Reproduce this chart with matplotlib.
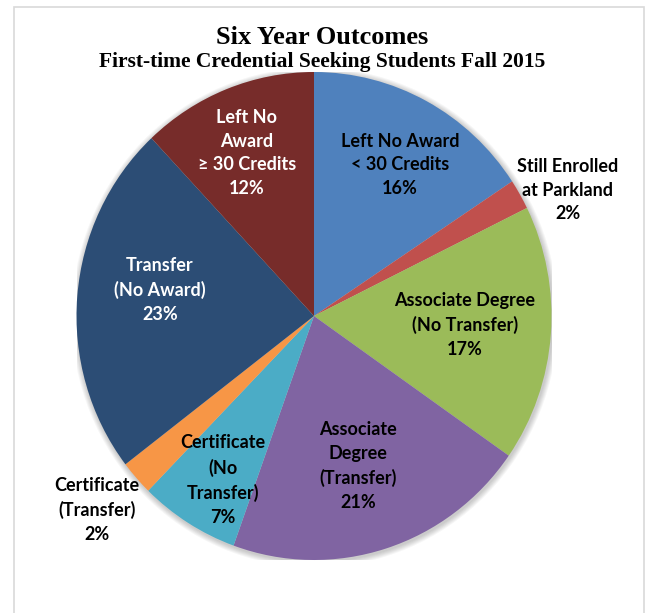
import matplotlib
matplotlib.use("Agg")
import matplotlib.pyplot as plt
import numpy as np
from matplotlib.patches import Rectangle, Ellipse

# outcome shares (%), clockwise from 12 o'clock
names = ["Left No Award\n< 30 Credits", "Still Enrolled\nat Parkland",
         "Associate Degree\n(No Transfer)", "Associate\nDegree\n(Transfer)",
         "Certificate\n(No\nTransfer)", "Certificate\n(Transfer)",
         "Transfer\n(No Award)", "Left No\nAward\n\u2265 30 Credits"]
shares = [15.7, 2.0, 17.0, 20.8, 6.8, 2.3, 23.4, 12.0]
colors = ["#4F81BD", "#C0504D", "#9BBB59", "#8064A2",
          "#4BACC6", "#F79646", "#2C4D75", "#772C2A"]
text_colors = ["black", "black", "black", "black", "black", "black", "white", "white"]
# label placement: radius (fraction of pie) and angle nudge from wedge middle (deg)
label_r = [0.717, 1.187, 0.637, 0.642, 0.774, 1.211, 0.657, 0.725]
label_da = [-2.0, -4.1, 1.0, -0.9, 2.3, -0.6, -4.7, 1.3]

W, H = 645, 613
fig = plt.figure(figsize=(W / 100, H / 100), dpi=100)

# light frame
fig.patches.append(Rectangle((14 / W, -0.05), (644 - 14) / W, 1.05 - 7 / H,
                             transform=fig.transFigure, fill=False,
                             edgecolor="#d9d9d9", linewidth=1.2))

cx, cy, rx, ry = 314, 316, 237.5, 244
ax = fig.add_axes([(cx - rx) / W, (H - cy - ry) / H, 2 * rx / W, 2 * ry / H])

# soft shadow round the pie
for k in range(6):
    s = 1 + 0.004 * (k + 1)
    ax.add_patch(Ellipse((0.004, -0.006), 2 * s, 2 * s, color="black",
                         alpha=0.035, linewidth=0, zorder=0))

wedges, _ = ax.pie(shares, colors=colors, startangle=90, counterclock=False,
                   wedgeprops=dict(linewidth=0, zorder=1))
ax.set_aspect("auto")
ax.set_xlim(-1, 1)
ax.set_ylim(-1, 1)
ax.axis("off")

for w, name, v, r, da, tc in zip(wedges, names, shares, label_r, label_da, text_colors):
    a = np.deg2rad((w.theta1 + w.theta2) / 2 + da)
    ax.text(r * np.cos(a), r * np.sin(a), f"{name}\n{v:.0f}%", ha="center", va="center",
            fontsize=13, fontweight="bold", family="Lato", color=tc,
            linespacing=1.48, clip_on=False, zorder=3)

fig.text(0.5, 1 - 38 / H, "Six Year Outcomes", ha="center", va="center",
         fontsize=19, fontweight="bold", family="Liberation Serif")
fig.text(0.5, 1 - 62 / H, "First-time Credential Seeking Students Fall 2015",
         ha="center", va="center", fontsize=15.5, fontweight="bold", family="Liberation Serif")

fig.savefig("out.png", dpi=100)
